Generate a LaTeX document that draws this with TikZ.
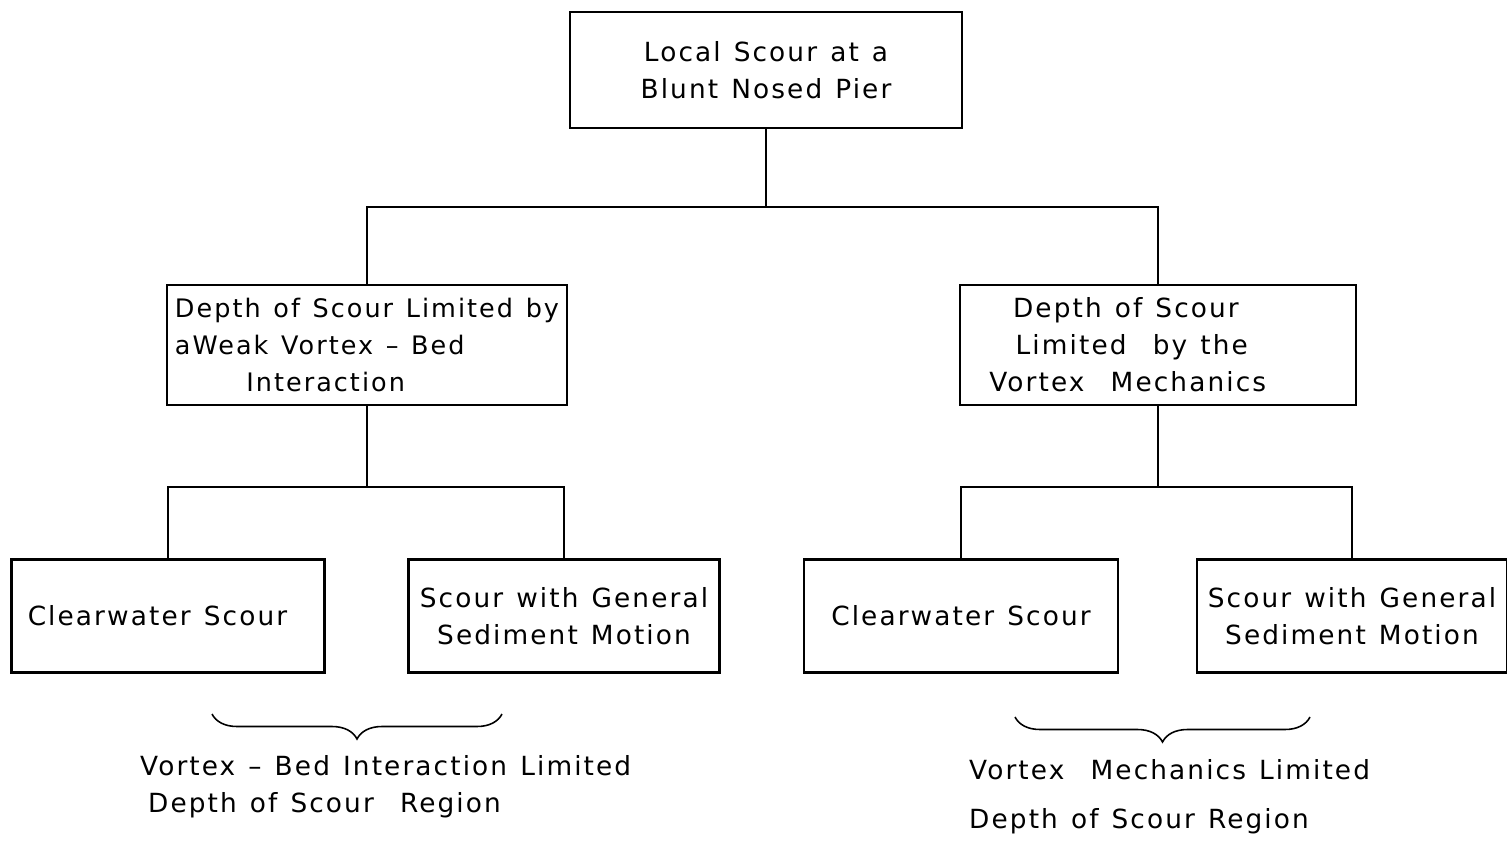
\documentclass[tikz,border=0pt]{standalone}
\usepackage{fontspec}
\setmainfont[LetterSpace=8,WordSpace=1.25]{DejaVu Sans}
\usetikzlibrary{positioning,decorations.pathreplacing}

\begin{document}
\begin{tikzpicture}[x=0.02cm,y=-0.02cm,
		box/.style={draw,line width=1.5pt,inner sep=0pt,align=center},
		conn/.style={line width=0.9pt},
		font=\fontsize{15}{21}\selectfont]
	\useasboundingbox (0,0) rectangle (1507,848);
	% boxes
	\node[box,minimum width=7.84cm,minimum height=2.32cm] (pier) at (766,70) {Local Scour at a\\Blunt Nosed Pier};
	\node[box,minimum width=8.0cm,minimum height=2.4cm,align=left,font=\fontsize{14.5}{21}\selectfont] (weak) at (367,345)
		{Depth of Scour Limited by\\aWeak Vortex -- Bed\\\hspace*{2.8em}Interaction};
	\node[box,minimum width=7.92cm,minimum height=2.4cm,align=left] (mech) at (1158,345)
		{\hspace*{0.9em}Depth of Scour\\\hspace*{1em}Limited\ \ by the\\Vortex\ \ Mechanics\hspace*{2.3em}};
	\node[box,minimum width=6.26cm,minimum height=2.26cm] (clearL) at (168,616) {Clearwater Scour\hspace*{0.8em}};
	\node[box,minimum width=6.22cm,minimum height=2.26cm] (sedL) at (564,616) {Scour with General\\Sediment Motion};
	\node[box,minimum width=6.28cm,minimum height=2.26cm] (clearR) at (961,616) {Clearwater Scour};
	\node[box,minimum width=6.2cm,minimum height=2.26cm] (sedR) at (1352,616) {Scour with General\\Sediment Motion};
	% junctions
	\coordinate (j1) at (766,207);
	\coordinate (j2) at (367,487);
	\coordinate (j3) at (1158,487);
	\draw[conn] (pier) -- (j1);
	\draw[conn,line width=1.3pt] (j1) -| (weak);
	\draw[conn,line width=1.3pt] (j1) -| (mech);
	\draw[conn] (weak) -- (j2);
	\draw[conn] (j2) -| (clearL);
	\draw[conn] (j2) -| (sedL);
	\draw[conn] (mech) -- (j3);
	\draw[conn] (j3) -| (clearR);
	\draw[conn] (j3) -| (sedR);
	% braces
	\coordinate (bl1) at (212,714);
	\coordinate (bl2) at (502,714);
	\coordinate (br1) at (1015,717);
	\coordinate (br2) at (1310,717);
	\draw[conn,decorate,decoration={brace,mirror,amplitude=0.5cm}] (bl1) -- (bl2);
	\draw[conn,decorate,decoration={brace,mirror,amplitude=0.5cm}] (br1) -- (br2);
	\node[anchor=west,align=left] (regL) at (134,787) {Vortex -- Bed Interaction Limited\\\hspace*{0.3em}Depth of Scour\ \ Region};
	\node[anchor=west,align=left] (regR) at (963,797) {Vortex\ \ Mechanics Limited\\[7pt]Depth of Scour Region};
\end{tikzpicture}
\end{document}
